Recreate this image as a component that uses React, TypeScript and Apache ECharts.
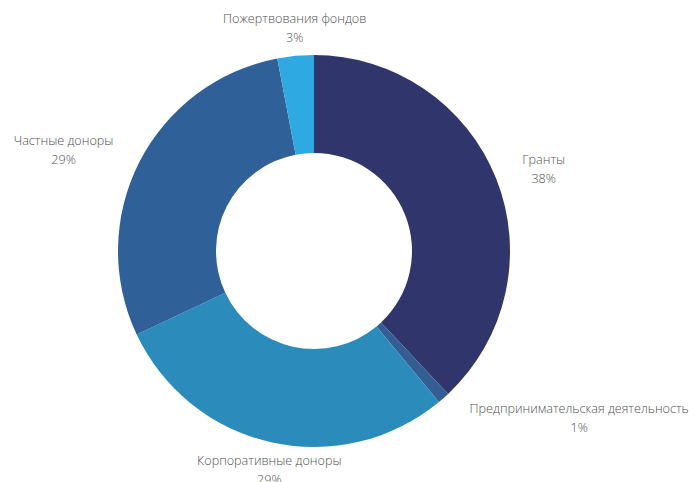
import React, { useEffect, useRef } from "react";
import * as echarts from "echarts";

const categories = [
  "Гранты",
  "Предпринимательская деятельность",
  "Корпоративные доноры",
  "Частные доноры",
  "Пожертвования фондов",
];
const values = [38, 1, 29, 29, 3];
const colors = ["#30356b", "#345e93", "#2b8bba", "#2f6098", "#2fa9e2"];

const CX = 314;
const CY = 251;
const R_IN = 98;
const R_OUT = 196;

export default function App() {
  const ref = useRef<HTMLDivElement>(null);
  useEffect(() => {
    if (!ref.current) return;
    const chart = echarts.init(ref.current, undefined, { renderer: "svg" });
    const total = values.reduce((a, b) => a + b, 0);
    const midAngles: number[] = [];
    let acc = 0;
    values.forEach((v) => {
      const start = 90 - (acc / total) * 360;
      const end = 90 - ((acc + v) / total) * 360;
      midAngles.push(((start + end) / 2) * (Math.PI / 180));
      acc += v;
    });
    chart.setOption({
      animation: false,
      backgroundColor: "#ffffff",
      series: [
        {
          type: "pie",
          center: [CX, CY],
          radius: [R_IN, R_OUT],
          startAngle: 90,
          clockwise: true,
          avoidLabelOverlap: false,
          data: categories.map((name, i) => ({
            name,
            value: values[i],
            itemStyle: { color: colors[i] },
          })),
          label: {
            show: true,
            position: "outside",
            formatter: (p: any) => `${p.name}\n${p.value}%`,
            fontFamily: "'Open Sans', sans-serif",
            fontSize: 12.6,
            fontWeight: 300,
            lineHeight: 19,
            color: "#505050",
            align: "center",
          },
          labelLine: { show: false },
          emphasis: { disabled: true },
          labelLayout: (params: any) => {
            const a = midAngles[params.dataIndex];
            const ux = Math.cos(a);
            const uy = -Math.sin(a);
            const ex = CX + R_OUT * ux;
            const ey = CY + R_OUT * uy;
            const w = params.labelRect.width;
            const h = params.labelRect.height;
            let x: number;
            let y: number;
            if (Math.abs(ux) >= 0.5) {
              x = ex + Math.sign(ux) * (26 + w / 2);
              y = ey + 26 * uy;
            } else {
              x = ex + 9 * ux;
              y = ey + 9 * uy + Math.sign(uy) * (h / 2);
            }
            return { x, y, align: "center", verticalAlign: "middle" };
          },
        },
      ],
    });
    return () => chart.dispose();
  }, []);
  return (
    <div
      ref={ref}
      style={{ position: "fixed", left: 0, top: 0, width: 689, height: 482 }}
    />
  );
}
